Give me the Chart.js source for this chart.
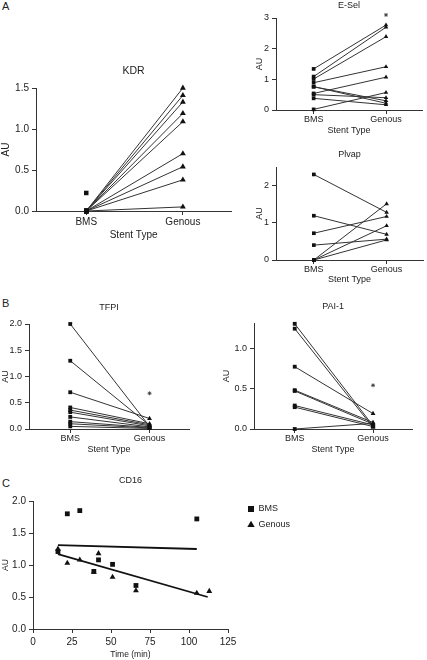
<!DOCTYPE html>
<html>
<head>
<meta charset="utf-8">
<script src="https://cdn.jsdelivr.net/npm/chart.js@4.4.1/dist/chart.umd.min.js"></script>
<style>
  body { margin: 0; background: #fff; }
  #fig { position: relative; width: 427px; height: 660px; overflow: hidden; background: #fff; }
  #fig canvas { position: absolute; }
  .tag { position: absolute; font: 11px 'Liberation Sans', Arial, sans-serif; line-height: 11px; color: #222; }
</style>
</head>
<body>
<div id="fig">
  <div class="tag" style="left:2px;top:1px">A</div>
  <div class="tag" style="left:2px;top:298px">B</div>
  <div class="tag" style="left:2px;top:478px">C</div>
</div>
<script>
const stentTypes = ['BMS', 'Genous'];

// KDR  (one BMS sample has no Genous partner)
const kdrBMS = [0, 0, 0, 0, 0, 0, 0, 0, 0];
const kdrGenous = [1.50, 1.41, 1.33, 1.19, 1.09, 0.70, 0.54, 0.38, 0.05];
const kdrBMSOnly = [0.22];
const kdrStar = [1.62];
const kdrTicks = [0, 0.5, 1.0, 1.5];

// E-Sel
const eselBMS = [1.34, 1.09, 1.01, 0.89, 0.54, 0.76, 0.76, 0.50, 0.38, 0.02];
const eselGenous = [2.77, 2.70, 2.39, 1.41, 1.07, 0.30, 0.22, 0.40, 0.17, 0.57];
const eselStar = [3.1];
const eselTicks = [0, 1, 2, 3];

// Plvap
const plvapBMS = [2.30, 1.19, 0.72, 0.40, 0, 0, 0];
const plvapGenous = [1.28, 0.69, 1.17, 0.56, 1.51, 0.92, 0.54];
const plvapTicks = [0, 1, 2];

// TFPI
const tfpiBMS = [2.00, 1.30, 0.70, 0.41, 0.36, 0.32, 0.23, 0.14, 0.10, 0.05];
const tfpiGenous = [0.05, 0.07, 0.20, 0.10, 0.08, 0.06, 0.04, 0.03, 0.02, 0.01];
const tfpiStar = [0.68];
const tfpiTicks = [0, 0.5, 1.0, 1.5, 2.0];

// PAI-1
const paiBMS = [1.30, 1.24, 0.77, 0.48, 0.47, 0.29, 0.27, 0.00];
const paiGenous = [0.04, 0.02, 0.19, 0.08, 0.06, 0.05, 0.03, 0.07];
const paiStar = [0.54];
const paiTicks = [0, 0.5, 1.0];

// CD16 vs time
const cdBmsTime = [16, 22, 30, 39, 42, 51, 66, 105];
const cdBmsAU = [1.21, 1.80, 1.85, 0.90, 1.08, 1.01, 0.68, 1.72];
const cdGenTime = [16, 22, 30, 39, 42, 51, 66, 105, 113];
const cdGenAU = [1.25, 1.03, 1.08, 0.89, 1.18, 0.81, 0.60, 0.56, 0.59];
const cdBmsFitTime = [16, 105];
const cdBmsFitAU = [1.31, 1.25];
const cdGenFitTime = [16, 112];
const cdGenFitAU = [1.17, 0.50];
const cdTimeTicks = [0, 25, 50, 75, 100, 125];
const cdAUTicks = [0, 0.5, 1.0, 1.5, 2.0];

Chart.defaults.font.family = "'Liberation Sans', Arial, sans-serif";
Chart.defaults.color = '#222';

// where each plot sits on the page (plot box + text rows)
// fs: title font, tfs: tick font, afs: axis title font
const lay = {
  kdr:   { l: 36,  t: 88,  r: 232, b: 211, titleY: 71,  tickY: 222, xTitleY: 235, yTitleX: 6,   fs: 10.5, tfs: 10, afs: 10 },
  esel:  { l: 276, t: 18,  r: 427, b: 110, titleY: 6,   tickY: 120, xTitleY: 131, yTitleX: 260, fs: 9, tfs: 9, afs: 9 },
  plvap: { l: 276, t: 167, r: 427, b: 260, titleY: 155, tickY: 270, xTitleY: 280, yTitleX: 260, fs: 9, tfs: 9, afs: 9 },
  tfpi:  { l: 29,  t: 324, r: 190, b: 429, titleY: 308, tickY: 439, xTitleY: 450, yTitleX: 6,   fs: 9, tfs: 9, afs: 9 },
  pai:   { l: 254, t: 323, r: 413, b: 429, titleY: 307, tickY: 438, xTitleY: 450, yTitleX: 227, fs: 9, tfs: 9, afs: 9 },
  cd16:  { l: 33,  t: 501, r: 228, b: 629, titleY: 481, tickY: 642, xTitleY: 655, yTitleX: 6,   fs: 9, tfs: 10, afs: 8.5 }
};

function frame(p, rightEdge) {
  const lh = p.fs * 1.2, tlh = p.tfs * 1.2, alh = p.afs * 1.2;
  const x = Math.max(0, Math.floor(p.yTitleX - alh / 2));
  const y = Math.max(0, Math.floor(p.titleY - lh / 2));
  const bottom = Math.min(660, Math.ceil(p.xTitleY + alh / 2));
  const right = rightEdge || Math.min(427, p.r + 4);
  const titlePadTop = Math.max(0, p.titleY - y - lh / 2);
  return {
    x: x, y: y, w: right - x, h: bottom - y,
    yAxisW: p.l - x,
    xAxisH: bottom - p.b,
    yTitlePad: Math.max(0, p.yTitleX - x - alh / 2),
    titlePadTop: titlePadTop,
    titlePadBottom: Math.max(0, p.t - y - lh - titlePadTop),
    xTitlePad: Math.max(0, bottom - p.xTitleY - alh / 2),
    tickPad: Math.max(0, p.tickY - p.b - 4 - tlh / 2),
    padRight: right - p.r
  };
}

function makeCanvas(f) {
  const c = document.createElement('canvas');
  c.width = f.w; c.height = f.h;
  c.style.left = f.x + 'px'; c.style.top = f.y + 'px';
  document.getElementById('fig').appendChild(c);
  return c;
}

function axis(f, p, o) {
  return {
    type: 'linear', min: o.min, max: o.max,
    afterBuildTicks: s => { s.ticks = o.ticks.map(v => ({ value: v })); },
    afterFit: s => { if (o.vertical) s.width = f.yAxisW; else s.height = f.xAxisH; },
    grid: { drawOnChartArea: false, tickLength: 4, color: '#333' },
    border: { color: '#333', width: 1 },
    ticks: { callback: o.fmt, padding: o.vertical ? 3 : f.tickPad, font: { size: p.tfs }, maxRotation: 0, autoSkip: false, color: '#222' },
    title: {
      display: true, text: o.title, font: { size: p.afs }, color: '#222',
      padding: o.vertical ? { top: f.yTitlePad, bottom: 0 } : { top: 0, bottom: f.xTitlePad }
    }
  };
}

function titleOpts(f, p, text) {
  return {
    display: true, text: text, fullSize: false, color: '#222',
    font: { size: p.fs, weight: 'normal' },
    padding: { top: f.titlePadTop, bottom: f.titlePadBottom }
  };
}

function pairedChart(p, name, bms, gen, bmsOnly, star, yTicks, yMax, yFmt, sq, tri) {
  const f = frame(p);
  const datasets = [];
  datasets.push({
    data: bms.concat(bmsOnly).map(v => ({ x: 0, y: v })),
    pointStyle: 'rect', pointRadius: sq, backgroundColor: '#111', borderWidth: 0, clip: false
  });
  datasets.push({
    data: gen.map(v => ({ x: 1, y: v })),
    pointStyle: 'triangle', pointRadius: tri, backgroundColor: '#111', borderWidth: 0, clip: false
  });
  datasets.push({
    data: star.map(v => ({ x: 1, y: v })),
    pointStyle: 'star', pointRadius: 2, borderColor: '#333', borderWidth: 0.8, clip: false
  });
  bms.forEach((v, i) => {
    datasets.push({
      data: [{ x: 0, y: v }, { x: 1, y: gen[i] }],
      showLine: true, pointRadius: 0, borderColor: '#333', borderWidth: 1, clip: false
    });
  });
  return new Chart(makeCanvas(f), {
    type: 'scatter',
    data: { datasets: datasets },
    options: {
      responsive: false, animation: false, events: [],
      layout: { padding: { left: 0, top: 0, bottom: 0, right: f.padRight } },
      scales: {
        x: axis(f, p, { min: -0.52, max: 1.5, ticks: [0, 1], fmt: v => stentTypes[v], title: 'Stent Type' }),
        y: axis(f, p, { min: 0, max: yMax, ticks: yTicks, fmt: yFmt, title: 'AU', vertical: true })
      },
      plugins: { legend: { display: false }, tooltip: { enabled: false }, title: titleOpts(f, p, name) }
    }
  });
}

const oneDec = v => v.toFixed(1);
const whole = v => String(v);

pairedChart(lay.kdr, 'KDR', kdrBMS, kdrGenous, kdrBMSOnly, kdrStar, kdrTicks, 1.5, oneDec, 3.2, 3.4);
pairedChart(lay.esel, 'E-Sel', eselBMS, eselGenous, [], eselStar, eselTicks, 3, whole, 2.6, 2.6);
pairedChart(lay.plvap, 'Plvap', plvapBMS, plvapGenous, [], [], plvapTicks, 2.5, whole, 2.6, 2.6);
pairedChart(lay.tfpi, 'TFPI', tfpiBMS, tfpiGenous, [], tfpiStar, tfpiTicks, 2.0, oneDec, 2.7, 2.8);
pairedChart(lay.pai, 'PAI-1', paiBMS, paiGenous, [], paiStar, paiTicks, 1.31, oneDec, 2.7, 2.8);

// panel C: scatter + fitted lines, legend off to the right of the plot
const nudgeLegend = {
  id: 'nudgeLegend',
  afterLayout(chart, args, o) {
    const lg = chart.legend;
    if (!lg) return;
    lg.left += o.dx;
    lg.top += o.dy; lg.bottom += o.dy;
    lg.right = lg.left + o.w; lg.width = o.w;
  }
};

(function () {
  const p = lay.cd16;
  const f = frame(p, 427);
  const legendW = 40;
  f.padRight = 427 - f.x - p.r - legendW;
  const pts = (xs, ys) => xs.map((x, i) => ({ x: x, y: ys[i] }));
  new Chart(makeCanvas(f), {
    type: 'scatter',
    data: {
      datasets: [
        { label: 'BMS', data: pts(cdBmsTime, cdBmsAU), pointStyle: 'rect', pointRadius: 3.4, backgroundColor: '#111', borderColor: '#111', borderWidth: 0, clip: false },
        { label: 'Genous', data: pts(cdGenTime, cdGenAU), pointStyle: 'triangle', pointRadius: 3.4, backgroundColor: '#111', borderColor: '#111', borderWidth: 0, clip: false },
        { data: pts(cdBmsFitTime, cdBmsFitAU), showLine: true, pointRadius: 0, borderColor: '#111', borderWidth: 1.8 },
        { data: pts(cdGenFitTime, cdGenFitAU), showLine: true, pointRadius: 0, borderColor: '#111', borderWidth: 1.8 }
      ]
    },
    options: {
      responsive: false, animation: false, events: [],
      layout: { padding: { left: 0, top: 0, bottom: 0, right: f.padRight } },
      scales: {
        x: axis(f, p, { min: 0, max: 125, ticks: cdTimeTicks, fmt: whole, title: 'Time (min)' }),
        y: axis(f, p, { min: 0, max: 2, ticks: cdAUTicks, fmt: oneDec, title: 'AU', vertical: true })
      },
      plugins: {
        tooltip: { enabled: false },
        title: titleOpts(f, p, 'CD16'),
        legend: {
          display: true, position: 'right', align: 'start', fullSize: false, maxWidth: legendW,
          labels: {
            usePointStyle: true, boxWidth: 6, boxHeight: 6, padding: 7,
            font: { size: 9 }, color: '#222',
            filter: item => !!item.text
          }
        },
        nudgeLegend: { dx: 13, dy: -3.5, w: 90 }
      }
    },
    plugins: [nudgeLegend]
  });
})();
</script>
</body>
</html>
